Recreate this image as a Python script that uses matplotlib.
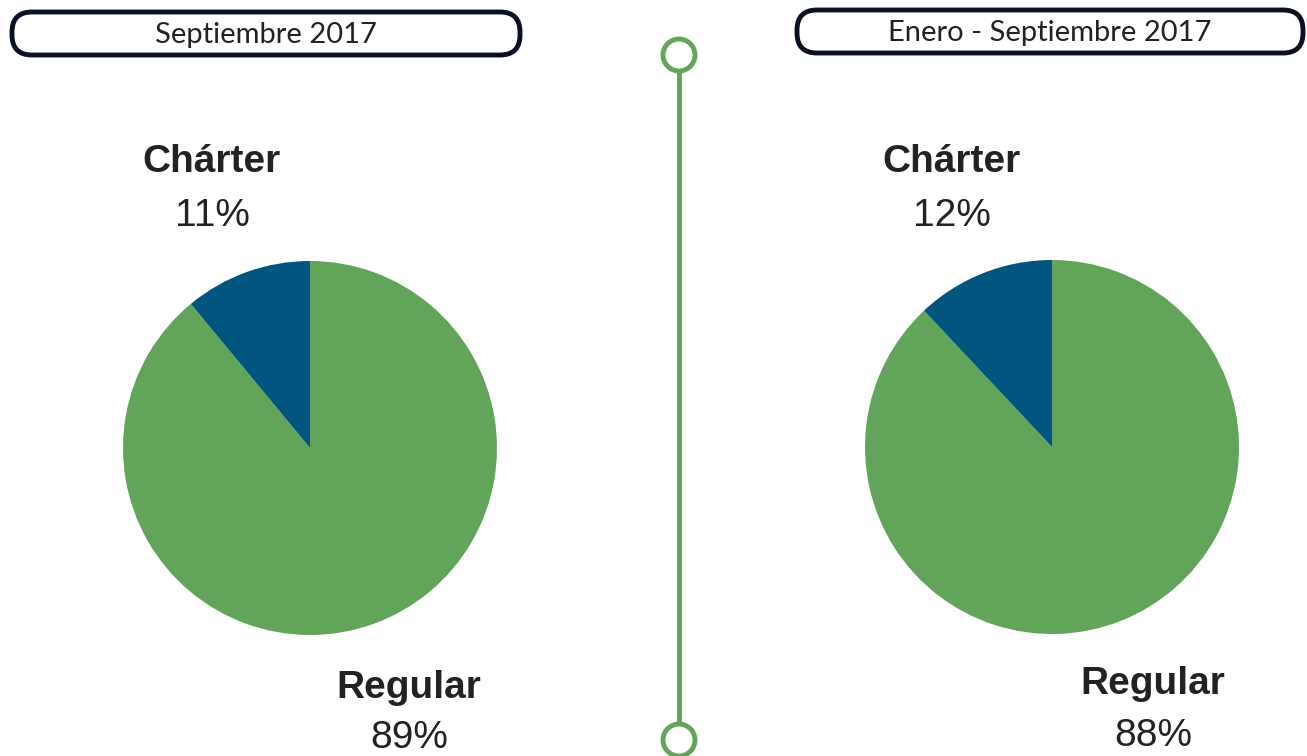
import matplotlib
matplotlib.use('Agg')
import matplotlib.pyplot as plt
from matplotlib.patches import FancyBboxPatch, Circle

# Data
titles = ['Septiembre 2017', 'Enero - Septiembre 2017']
categories = ['Regular', 'Chárter']
shares_sep = [89, 11]
shares_ene_sep = [88, 12]
colors = ['#62a55a', '#00567f']

W, H = 1307, 756
fig = plt.figure(figsize=(W / 100, H / 100), dpi=100)

# overlay in pixel coordinates for the decorations
bg = fig.add_axes([0, 0, 1, 1])
bg.set_xlim(0, W)
bg.set_ylim(H, 0)
bg.axis('off')


def pie_at(cx, cy, r, values):
    ax = fig.add_axes([(cx - r) / W, (H - cy - r) / H, 2 * r / W, 2 * r / H])
    ax.pie(values, colors=colors, startangle=90, counterclock=False,
           wedgeprops=dict(linewidth=0))
    ax.set_xlim(-1, 1)
    ax.set_ylim(-1, 1)
    return ax


pie_at(310, 448, 187, shares_sep)
pie_at(1052, 447, 187, shares_ene_sep)

# header boxes
for (x0, y0, x1, y1), t in zip([(12, 12, 520, 55), (797, 10, 1303, 53)], titles):
    box = FancyBboxPatch((x0, y0), x1 - x0, y1 - y0,
                         boxstyle='round,pad=0,rounding_size=20',
                         fc='white', ec='#0b1024', lw=3.5)
    bg.add_patch(box)
    bg.text((x0 + x1) / 2, (y0 + y1) / 2 + 1, t, ha='center', va='center',
            fontsize=21, family='Lato', color='#222222')

# labels
lab = dict(ha='center', va='center', color='#222222', family='Liberation Sans', fontsize=28)
bg.text(212, 162, categories[1], fontweight='bold', **lab)
bg.text(212, 216, f'{shares_sep[1]}%', **lab)
bg.text(409, 688, categories[0], fontweight='bold', **lab)
bg.text(409, 738, f'{shares_sep[0]}%', **lab)
bg.text(952, 162, categories[1], fontweight='bold', **lab)
bg.text(952, 216, f'{shares_ene_sep[1]}%', **lab)
bg.text(1153, 684, categories[0], fontweight='bold', **lab)
bg.text(1153, 736, f'{shares_ene_sep[0]}%', **lab)

# green timeline separator
green = '#62a55a'
bg.plot([679, 679], [72, 723], color=green, lw=3.5, solid_capstyle='butt')
for cy in (55, 740):
    bg.add_patch(Circle((679, cy), 16, fc='white', ec=green, lw=3.5))

fig.savefig('out.png', dpi=100)
